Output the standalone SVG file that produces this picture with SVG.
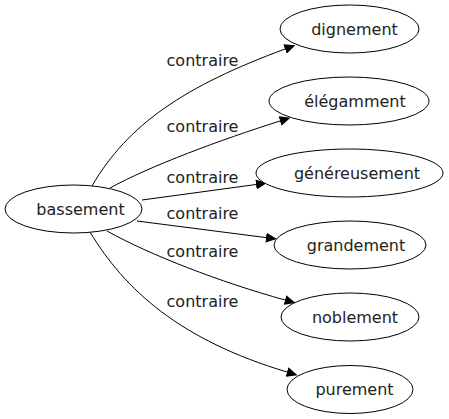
<svg xmlns="http://www.w3.org/2000/svg" width="449" height="419" viewBox="0 0 449 419">
<style>
  .node ellipse { fill: #ffffff; stroke: #000000; stroke-width: 1; }
  text { font-family: "DejaVu Sans", Verdana, sans-serif; font-size: 16px; fill: #222222; text-anchor: middle; }
  .edges path { fill: none; stroke: #000000; stroke-width: 1; marker-end: url(#arrow); }
</style>
<defs>
  <marker id="arrow" markerUnits="userSpaceOnUse" markerWidth="12" markerHeight="10" refX="0" refY="5" orient="auto" viewBox="0 0 12 10">
    <polygon points="0,0 11,5 0,10" fill="#000000"/>
  </marker>
</defs>
<rect width="449" height="419" fill="#ffffff"/>
<g id="edges" class="edges">
  <path d="M92,186 C128,124 185,86 285,49"/>
  <path d="M110,188 C150,166 220,140 280,121"/>
  <path d="M142,200 L256,184.5"/>
  <path d="M137,221 L266,237.6"/>
  <path d="M107,231 C150,255 220,282 285,300"/>
  <path d="M90,232 C125,290 180,340 287,372"/>
  <text x="202.5" y="66">contraire</text>
  <text x="202.5" y="132">contraire</text>
  <text x="202.5" y="183">contraire</text>
  <text x="202.5" y="219">contraire</text>
  <text x="202.5" y="257">contraire</text>
  <text x="202.5" y="307">contraire</text>
</g>
<g id="node-bassement" class="node">
  <ellipse cx="73.5" cy="209" rx="68.5" ry="24"/>
  <text x="80.5" y="214.5">bassement</text>
</g>
<g id="node-dignement" class="node">
  <ellipse cx="349.5" cy="29" rx="69.5" ry="24"/>
  <text x="354.5" y="34.5">dignement</text>
</g>
<g id="node-elegamment" class="node">
  <ellipse cx="349" cy="101" rx="80" ry="24"/>
  <text x="355" y="106.5">élégamment</text>
</g>
<g id="node-genereusement" class="node">
  <ellipse cx="349.5" cy="173" rx="93.5" ry="24"/>
  <text x="357" y="178.5">généreusement</text>
</g>
<g id="node-grandement" class="node">
  <ellipse cx="350" cy="245" rx="76" ry="24"/>
  <text x="356" y="250.5">grandement</text>
</g>
<g id="node-noblement" class="node">
  <ellipse cx="350" cy="317" rx="69" ry="24"/>
  <text x="355" y="322.5">noblement</text>
</g>
<g id="node-purement" class="node">
  <ellipse cx="350" cy="389.5" rx="63" ry="24"/>
  <text x="354.5" y="395">purement</text>
</g>
</svg>
